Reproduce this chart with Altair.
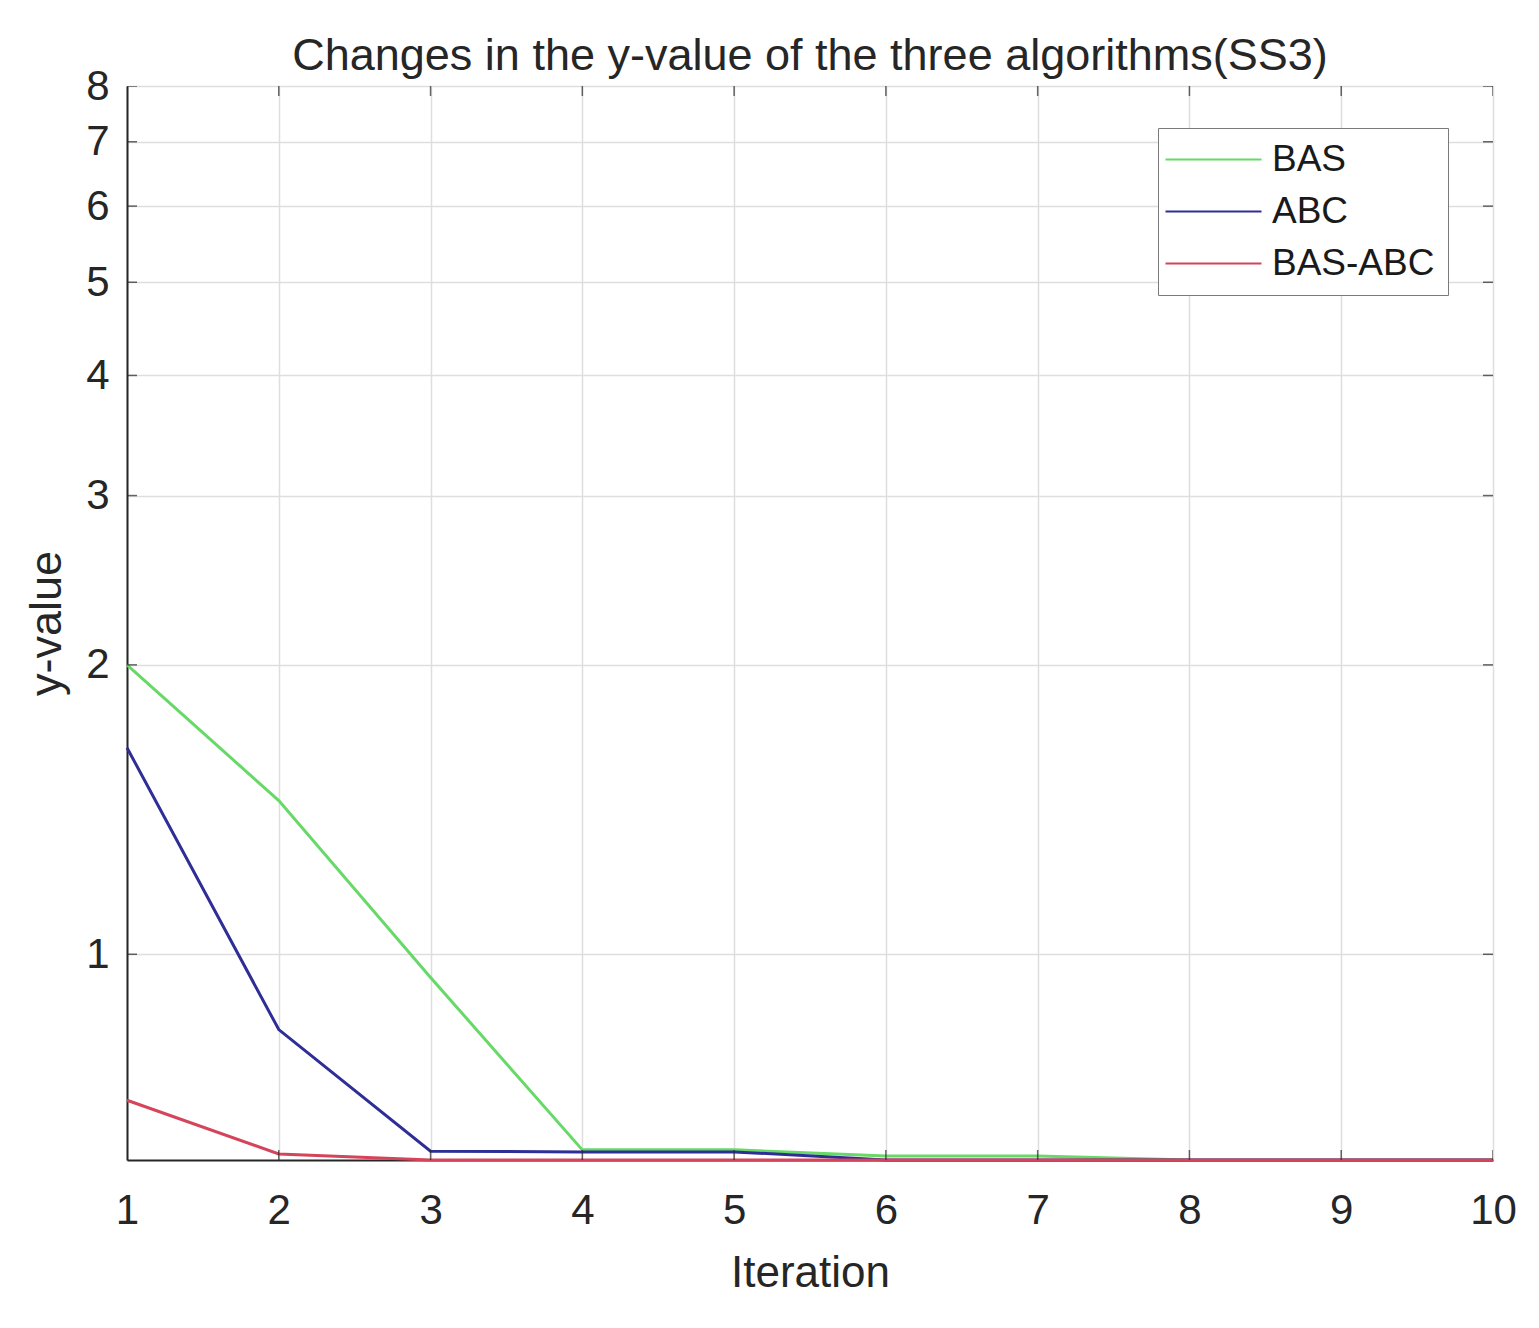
import altair as alt
import pandas as pd

iterations = [1, 2, 3, 4, 5, 6, 7, 8, 9, 10]
bas = [2.0, 1.445, 0.946, 0.626, 0.626, 0.617, 0.617, 0.611, 0.611, 0.611]
abc = [1.64, 0.835, 0.624, 0.623, 0.623, 0.611, 0.611, 0.611, 0.611, 0.611]
bas_abc = [0.705, 0.620, 0.611, 0.611, 0.611, 0.611, 0.611, 0.611, 0.611, 0.611]
series_names = ["BAS", "ABC", "BAS-ABC"]
series_colors = ["#66d966", "#2e2e96", "#d4445a"]
x_ticks = [1, 2, 3, 4, 5, 6, 7, 8, 9, 10]
y_ticks = [1, 2, 3, 4, 5, 6, 7, 8]
y_domain = [0.611, 8]

rows = []
for name, vals in zip(series_names, [bas, abc, bas_abc]):
    for it, v in zip(iterations, vals):
        rows.append({"Iteration": it, "value": v, "series": name})
df = pd.DataFrame(rows)

W, H = 1366, 1074
FONT = "Liberation Sans"

xscale = alt.Scale(domain=[1, 10], nice=False, zero=False)
yscale = alt.Scale(type="log", domain=y_domain, nice=False)

xaxis = alt.Axis(values=x_ticks, format="d", title="Iteration", grid=True,
                 gridColor="#dedede", gridWidth=1.5, tickSize=0, labelFlush=False,
                 labelPadding=30, labelFontSize=42, titleFontSize=44,
                 titlePadding=20, labelFont=FONT, titleFont=FONT,
                 labelColor="#262626", titleColor="#262626", titleFontWeight="normal",
                 domainColor="#262626", domainWidth=2)
yaxis = alt.Axis(values=y_ticks, format="d", title="y-value", grid=True,
                 gridColor="#dedede", gridWidth=1.5, tickSize=0, labelFlush=False,
                 labelPadding=18, labelFontSize=42, titleFontSize=45,
                 titlePadding=16, labelFont=FONT, titleFont=FONT,
                 labelColor="#262626", titleColor="#262626", titleFontWeight="normal",
                 domainColor="#262626", domainWidth=2)

# custom line symbol: from -2r to 6r (r = sqrt(size)/2 = 12) -> 96px long
lines = alt.Chart(df).mark_line(strokeWidth=3).encode(
    x=alt.X("Iteration:Q", scale=xscale, axis=xaxis),
    y=alt.Y("value:Q", scale=yscale, axis=yaxis),
    color=alt.Color("series:N", sort=series_names,
                    scale=alt.Scale(domain=series_names, range=series_colors),
                    legend=alt.Legend(title=None, orient="none", legendX=1031, legendY=42,
                                      symbolType="M-2,0H6", symbolSize=576,
                                      symbolStrokeWidth=2, labelFontSize=37,
                                      labelFont=FONT, labelColor="#1a1a1a",
                                      labelOffset=64, padding=13, rowPadding=14,
                                      strokeColor="#7a7a7a", fillColor="white",
                                      labelLimit=400)),
    order=alt.Order("Iteration:Q"),
)

xt = pd.DataFrame({"t": x_ticks})
yt = pd.DataFrame({"t": y_ticks})
tick_style = dict(color="#262626", thickness=1.5, size=20, clip=True)
xtick_b = alt.Chart(xt).mark_tick(orient="vertical", **tick_style).encode(
    x=alt.X("t:Q", scale=xscale, title="Iteration"), y=alt.value(H))
xtick_t = alt.Chart(xt).mark_tick(orient="vertical", **tick_style).encode(
    x=alt.X("t:Q", scale=xscale, title="Iteration"), y=alt.value(0))
ytick_l = alt.Chart(yt).mark_tick(orient="horizontal", **tick_style).encode(
    y=alt.Y("t:Q", scale=yscale, title="y-value"), x=alt.value(0))
ytick_r = alt.Chart(yt).mark_tick(orient="horizontal", **tick_style).encode(
    y=alt.Y("t:Q", scale=yscale, title="y-value"), x=alt.value(W))

chart = alt.layer(lines, xtick_b, xtick_t, ytick_l, ytick_r).properties(
    width=W, height=H,
    title=alt.Title("Changes in the y-value of the three algorithms(SS3)",
                    fontSize=45, font=FONT, fontWeight="normal", color="#262626",
                    frame="group", offset=8, dy=22),
    autosize=alt.AutoSizeParams(type="none"),
    padding={"left": 119, "top": 78, "right": 30, "bottom": 150},
).configure_view(stroke="#262626", strokeWidth=2).configure(background="white")

chart.save("out.html", embed_options={"renderer": "svg", "actions": False})
